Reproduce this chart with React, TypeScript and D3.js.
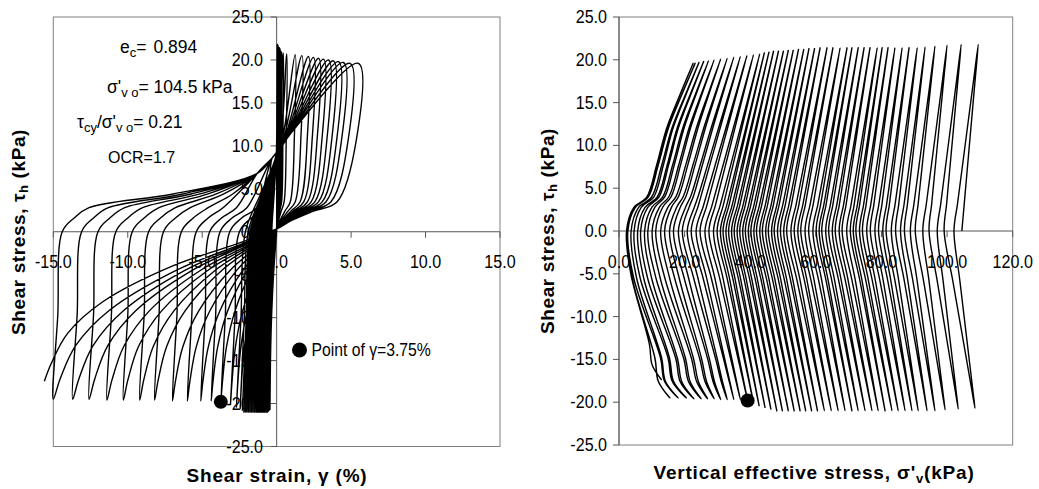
import React from 'react';
import * as d3 from 'd3';

// ---------------- data ----------------
// strain (%) and shear stress (kPa) at each positive peak (cycle order)
const peakStrain = [0.04, 0.06, 0.08, 0.10, 0.11, 0.12, 0.13, 0.14, 0.15, 0.16,
  0.17, 0.18, 0.18, 0.19, 0.19, 0.20, 0.20, 0.21, 0.21, 0.22,
  0.22, 0.23, 0.23, 0.24, 0.24, 0.25, 0.26, 0.27, 0.29, 0.31,
  0.35, 0.45, 0.68,
  1.24, 1.69, 2.13, 2.47, 2.81, 3.14, 3.48, 3.81, 4.15, 4.48, 4.93, 5.49];
const peakTau = [21.8, 21.8, 21.7, 21.6, 21.5, 21.4, 21.4, 21.4, 21.4, 21.4,
  21.4, 21.4, 21.4, 21.4, 21.4, 21.4, 21.4, 21.4, 21.4, 21.4,
  21.4, 21.3, 21.3, 21.2, 21.2, 21.1, 21.1, 21.0, 21.0, 21.0,
  20.9, 20.8, 20.7, 20.6, 20.5, 20.4, 20.3, 20.2, 20.1, 20.0,
  19.9, 19.8, 19.7, 19.6, 19.6];
// vertical effective stress (kPa) at each positive peak
const peakSigma = [109.5, 104.3, 100.0, 96.3, 93.3, 90.9, 88.4, 86.3, 84.1, 82.0,
  80.2, 78.7, 76.5, 74.7, 72.9, 71.0, 69.5, 67.4, 65.2, 63.4,
  61.3, 59.6, 57.9, 56.3, 54.7, 53.1, 51.6, 50.1, 48.6, 47.1,
  45.7, 44.3, 42.9, 41.0, 39.0, 37.0, 35.0, 33.0, 31.0, 29.0,
  27.3, 25.8, 24.4, 23.2, 22.6];
// strain, shear stress and vertical effective stress at each negative trough
const troughStrain = [-0.45, -0.5, -0.55, -0.6, -0.65, -0.7, -0.75, -0.8, -0.85, -0.9,
  -0.95, -1.0, -1.05, -1.1, -1.15, -1.2, -1.25, -1.3, -1.35, -1.4,
  -1.5, -1.6, -1.7, -1.8, -1.9, -2.0, -2.1, -2.2, -2.3, -2.45,
  -2.7, -3.1, -3.75,
  -4.40, -5.10, -6.00, -7.00, -8.20, -9.20, -10.30, -11.40, -12.60, -13.70, -15.00];
const troughTau = [-20.7, -20.8, -20.9, -21.0, -21.0, -21.0, -21.0, -21.0, -21.0, -21.0,
  -21.0, -21.0, -21.0, -21.0, -21.0, -21.0, -21.0, -21.0, -21.0, -21.0,
  -21.0, -21.0, -21.0, -21.0, -21.0, -21.0, -21.0, -21.0, -20.8, -20.6,
  -20.4, -20.1, -19.8, -19.7, -19.7, -19.7, -19.7, -19.6, -19.6, -19.6,
  -19.6, -19.5, -19.5, -19.5];
const troughSigma = [108.5, 103.4, 99.4, 96.3, 93.9, 91.2, 89.3, 87.2, 85.1, 83.2,
  81.1, 79.0, 77.1, 75.0, 72.9, 71.0, 68.9, 66.8, 64.7, 62.6,
  60.5, 58.7, 56.9, 55.2, 53.4, 51.6, 49.8, 48.1, 46.3, 44.5,
  42.7, 41.0, 39.2, 37.0, 35.0, 33.0, 31.0, 29.0, 27.0, 25.0,
  22.8, 20.5, 18.0, 15.5];
// vertical effective stress where the stress path crosses tau = 0
const zeroUpSigma = [104.5, 99.1, 94.5, 90.3, 87.0, 84.3, 81.4, 79.1, 76.6, 74.2,
  72.2, 70.5, 68.0, 65.9, 63.9, 61.8, 60.1, 57.8, 55.4, 53.4,
  51.1, 49.2, 47.3, 45.5, 43.7, 41.9, 40.2, 38.5, 36.8, 35.1,
  33.4, 31.7, 29.9, 27.4, 24.7, 22.0, 19.3, 16.6, 13.9, 11.2,
  8.8, 6.6, 4.6, 2.7, 2.4];
const zeroDownSigma = [102.1, 97.0, 92.6, 88.8, 85.8, 83.0, 80.4, 78.0, 75.5, 73.3,
  71.4, 69.4, 67.1, 65.0, 63.0, 61.0, 59.1, 56.7, 54.5, 52.4,
  50.2, 48.3, 46.5, 44.7, 42.9, 41.1, 39.4, 37.7, 36.0, 34.3,
  32.6, 30.9, 28.8, 26.2, 23.5, 20.8, 18.1, 15.4, 12.7, 10.1,
  7.8, 5.7, 3.7, 2.5, 2.3];
// last recorded point of the test
const endStrain = -15.6;
const endSigma = 13.0;
const endTau = -17.4;
// trough at which gamma reached 3.75 %
const markerCycle = 32;

const strainTicks = [-15, -10, -5, 0, 5, 10, 15];
const tauTicks = [25, 20, 15, 10, 5, 0, -5, -10, -15, -20, -25];
const sigmaTicks = [0, 20, 40, 60, 80, 100, 120];

// ---------------- layout ----------------
const FONT = "'Liberation Sans', Arial, Helvetica, sans-serif";
const xL = d3.scaleLinear().domain([-15, 15]).range([53.3, 500]);
const yL = d3.scaleLinear().domain([-25, 25]).range([446.5, 17]);
const xR = d3.scaleLinear().domain([0, 120]).range([619, 1012.7]);
const yR = d3.scaleLinear().domain([-25, 25]).range([445, 17]);

type P = [number, number];
const clamp = (v: number, a: number, b: number) => Math.max(a, Math.min(b, v));

// ----- stress-strain loop shapes -----
function unloadHalf(g1: number, t1: number, g0: number, t0: number): P[] {
  const pts: P[] = [
    [g1 - 0.02 - 0.02 * g1, 0.55 * t1],
    [0.74 * g1, 3.5],
    [0.45 * g1, 2.4],
    [0.16 * g1, 1.2],
    [0.04 * g1, 0.5],
  ];
  const fs = [0.15, 0.45, 0.75, 0.9, 0.97];
  const ts = [0.07, 0.23, 0.47, 0.68, 0.88];
  fs.forEach((f, k) => pts.push([f * g0, ts[k] * t0]));
  pts.push([g0, t0]);
  return pts;
}

function loadHalf(g0: number, t0: number, g1: number, t1: number): P[] {
  const pts: P[] = [];
  if (g0 < -3) {
    pts.push([g0 + 0.3, 0.5 * t0], [g0 + 0.6, 0], [g0 + 1.4, 1.6]);
    const cx = g0 + 2.4;
    pts.push([cx, 2.8]);
    if (cx < -4) pts.push([(cx - 1.3) / 2, 4.4]);
    if (cx < -2.3) pts.push([-1.3, 6.8]);
    pts.push([-0.3, 8.6]);
  } else {
    const w = clamp((-g0 - 0.2) / 2.5, 0.2, 1);
    pts.push([g0 + 0.3 * w, 0.5 * t0], [g0 + 0.6 * w, 0], [(g0 + 0.6 * w) * 0.5, 4.5], [-0.02, 9]);
  }
  if (g1 > 0.5) pts.push([0.15 * g1, 9 + 0.4 * g1]);
  pts.push([g1, t1]);
  return pts;
}

function strainPath(): P[] {
  const pts: P[] = [[0, 0], [0.01, 10], [peakStrain[0], peakTau[0]]];
  for (let i = 0; i < troughStrain.length; i++) {
    pts.push(...unloadHalf(peakStrain[i], peakTau[i], troughStrain[i], troughTau[i]));
    pts.push(...loadHalf(troughStrain[i], troughTau[i], peakStrain[i + 1], peakTau[i + 1]));
  }
  const n = peakStrain.length - 1;
  pts.push(...unloadHalf(peakStrain[n], peakTau[n], endStrain, endTau));
  return pts;
}

// ----- stress path shapes -----
const lateW = (s0: number) => clamp((22 - s0) / 17, 0, 1);
const upT = [0, 0.14, 0.2, 0.39, 0.61, 0.81, 1];
const upLate = [0, 0.11, 0.3, 0.45, 0.6, 0.8, 1];
const loT = [0, 0.28, 0.76, 0.9, 1];
const loLate = [0, 0.115, 0.65, 0.73, 1];

function upperArm(s0: number, sP: number, tP: number): P[] {
  const w = lateW(s0);
  return upT.map((t, k) => {
    const f = (1 - w) * t + w * upLate[k];
    return [s0 + f * (sP - s0), t * tP] as P;
  });
}
function lowerArm(s0: number, sT: number, tT: number): P[] {
  const w = lateW(s0);
  return loT.map((t, k) => {
    const f = (1 - w) * t + w * loLate[k];
    return [s0 + f * (sT - s0), t * tT] as P;
  });
}

function stressPath(): P[] {
  const pts: P[] = [];
  const n = peakSigma.length;
  for (let i = 0; i < n; i++) {
    const up = upperArm(zeroUpSigma[i], peakSigma[i], peakTau[i]);
    pts.push(...(i === 0 ? up : up.slice(1)));
    const down = upperArm(zeroDownSigma[i], peakSigma[i], peakTau[i]).reverse();
    pts.push(...down.slice(1));
    if (i < troughSigma.length) {
      const lo = lowerArm(zeroDownSigma[i], troughSigma[i], troughTau[i]);
      pts.push(...lo.slice(1));
      const back = lowerArm(zeroUpSigma[i + 1], troughSigma[i], troughTau[i]).reverse();
      pts.push(...back.slice(1));
    } else {
      const lo = lowerArm(zeroDownSigma[i], endSigma, endTau);
      pts.push(...lo.slice(1));
    }
  }
  return pts;
}

const curve = d3.curveCatmullRom.alpha(0.5);

function T(props: any) {
  const { x, y, size = 17.5, anchor = 'start', bold = false, rotate = 0, sx = 1, ls, children } = props;
  return (
    <text
      transform={`translate(${x},${y}) rotate(${rotate}) scale(${sx},1)`}
      fontSize={size}
      fontFamily={FONT}
      fontWeight={bold ? 'bold' : 'normal'}
      textAnchor={anchor}
      letterSpacing={ls}
      fill="#000"
    >
      {children}
    </text>
  );
}

export default function App() {
  const lineL = d3.line<P>().x((d) => xL(d[0])).y((d) => yL(d[1])).curve(curve);
  const lineR = d3.line<P>().x((d) => xR(d[0])).y((d) => yR(d[1])).curve(curve);
  const dL = lineL(strainPath()) || '';
  const dR = lineR(stressPath()) || '';

  const lx0 = xL(0), ly0 = yL(0);
  const ry0 = yR(0);
  const sub = 13;

  return (
    <svg width={1039} height={489} style={{ position: 'absolute', left: 0, top: 0, background: '#fff' }}>
      <rect x={0} y={0} width={1039} height={489} fill="#fff" />
      {/* ---------- left panel ---------- */}
      <rect x={xL(-15)} y={yL(25)} width={xL(15) - xL(-15)} height={yL(-25) - yL(25)} fill="#fff" stroke="#808080" strokeWidth={1} />
      <line x1={lx0} x2={lx0} y1={yL(25)} y2={yL(-25)} stroke="#555" />
      <line x1={xL(-15)} x2={xL(15)} y1={ly0} y2={ly0} stroke="#555" />
      {tauTicks.map((v) => (
        <line key={'lyt' + v} x1={lx0 - 6} x2={lx0} y1={yL(v)} y2={yL(v)} stroke="#555" />
      ))}
      {strainTicks.map((v) => (
        <line key={'lxt' + v} x1={xL(v)} x2={xL(v)} y1={ly0} y2={ly0 + 6} stroke="#555" />
      ))}
      {tauTicks.map((v) => (
        <T key={'lyl' + v} x={263} y={yL(v) + 6} anchor="end" sx={0.92}>{v.toFixed(1)}</T>
      ))}
      {strainTicks.map((v) => (
        <T key={'lxl' + v} x={xL(v)} y={268} anchor="middle" sx={0.92}>{v.toFixed(1)}</T>
      ))}
      <path d={dL} fill="none" stroke="#000" strokeWidth={1.4} strokeLinejoin="round" />
      <circle cx={xL(troughStrain[markerCycle])} cy={yL(troughTau[markerCycle])} r={7} fill="#000" />

      {/* annotations */}
      <T x={120} y={53}>
        e<tspan fontSize={sub} dy={4}>c</tspan><tspan dy={-4}>=</tspan><tspan dx={7}>0.894</tspan>
      </T>
      <T x={107} y={93}>
        σ'<tspan fontSize={sub} dy={4}>v o</tspan><tspan dy={-4}>= 104.5 kPa</tspan>
      </T>
      <T x={77} y={128}>
        τ<tspan fontSize={sub} dy={4}>cy</tspan><tspan dy={-4}>/σ'</tspan><tspan fontSize={sub} dy={4}>v o</tspan><tspan dy={-4}>= 0.21</tspan>
      </T>
      <T x={108} y={163} size={16}>OCR=1.7</T>

      {/* legend */}
      <circle cx={299.5} cy={350} r={7.5} fill="#000" />
      <T x={311.5} y={356} sx={0.9}>Point of γ=3.75%</T>

      {/* titles */}
      <T x={25} y={232} rotate={-90} anchor="middle" bold size={19} ls={0.6}>
        Shear stress, τ<tspan fontSize={13} dy={3}>h</tspan><tspan dy={-3}> (kPa)</tspan>
      </T>
      <T x={277} y={482} anchor="middle" bold size={19} ls={0.8}>Shear strain, γ (%)</T>

      {/* ---------- right panel ---------- */}
      <rect x={xR(0)} y={yR(25)} width={xR(120) - xR(0)} height={yR(-25) - yR(25)} fill="#fff" stroke="#808080" strokeWidth={1} />
      <line x1={xR(0)} x2={xR(0)} y1={yR(25)} y2={yR(-25)} stroke="#555" />
      <line x1={xR(0)} x2={xR(120)} y1={ry0} y2={ry0} stroke="#555" />
      {tauTicks.map((v) => (
        <line key={'ryt' + v} x1={xR(0) - 6} x2={xR(0)} y1={yR(v)} y2={yR(v)} stroke="#555" />
      ))}
      {sigmaTicks.map((v) => (
        <line key={'rxt' + v} x1={xR(v)} x2={xR(v)} y1={ry0} y2={ry0 + 6} stroke="#555" />
      ))}
      {tauTicks.map((v) => (
        <T key={'ryl' + v} x={607} y={yR(v) + 6} anchor="end" sx={0.92}>{v.toFixed(1)}</T>
      ))}
      {sigmaTicks.map((v) => (
        <T key={'rxl' + v} x={xR(v)} y={268} anchor="middle" sx={0.92}>{v.toFixed(1)}</T>
      ))}
      <path d={dR} fill="none" stroke="#000" strokeWidth={1.4} strokeLinejoin="round" />
      <circle cx={xR(troughSigma[markerCycle])} cy={yR(troughTau[markerCycle])} r={7} fill="#000" />

      <T x={554} y={231} rotate={-90} anchor="middle" bold size={19} ls={0.6}>
        Shear stress, τ<tspan fontSize={13} dy={3}>h</tspan><tspan dy={-3}> (kPa)</tspan>
      </T>
      <T x={814} y={479} anchor="middle" bold size={19} ls={0.8}>
        Vertical effective stress, σ'<tspan fontSize={13} dy={4}>v</tspan><tspan dy={-4}>(kPa)</tspan>
      </T>
    </svg>
  );
}
